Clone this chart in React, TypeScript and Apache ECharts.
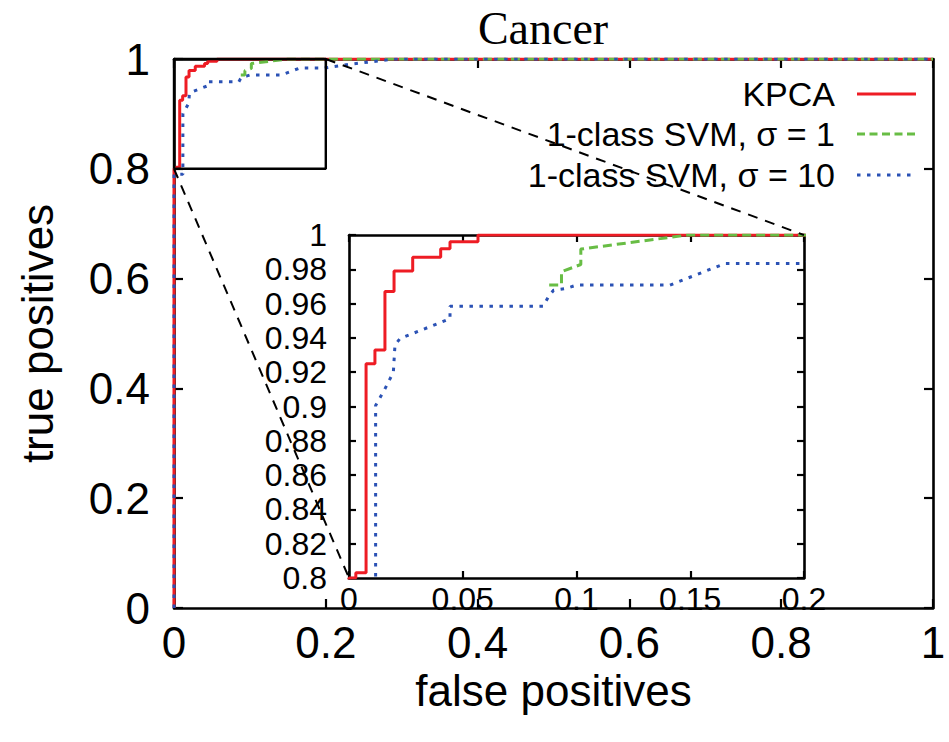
import React, { useEffect, useRef } from "react";
import * as echarts from "echarts";

// ROC curves (false positive rate, true positive rate)
const kpcaPoints: [number, number][] = [
  [0, 0], [0, 0.8], [0.003, 0.8], [0.003, 0.803], [0.0075, 0.803], [0.0075, 0.925],
  [0.0114, 0.925], [0.0114, 0.933], [0.0158, 0.933], [0.0158, 0.967], [0.0198, 0.967],
  [0.0198, 0.979], [0.028, 0.979], [0.028, 0.987], [0.0403, 0.987], [0.0403, 0.992],
  [0.0444, 0.992], [0.0444, 0.996], [0.0567, 0.996], [0.0567, 1], [1, 1],
];
const svm1Points: [number, number][] = [
  [0.088, 0.9708], [0.0934, 0.9708], [0.0934, 0.9786], [0.1019, 0.9828],
  [0.1019, 0.9918], [0.149, 1], [1, 1],
];
const svm10Points: [number, number][] = [
  [0, 0], [0, 0.79], [0.0117, 0.79], [0.0117, 0.9006], [0.0158, 0.9103], [0.0195, 0.92],
  [0.0202, 0.9357], [0.0224, 0.9396], [0.0444, 0.9512], [0.0444, 0.9585],
  [0.0854, 0.9585], [0.0876, 0.9639], [0.0899, 0.9678], [0.0953, 0.9688],
  [0.1, 0.9708], [0.1411, 0.9708], [0.1653, 0.9834], [0.198, 0.9834],
  [0.23, 0.99], [0.29, 1], [1, 1],
];
const zoomBox: [number, number][] = [[0, 0.8], [0.2, 0.8], [0.2, 1], [0, 1], [0, 0.8]];

const seriesNames = ["KPCA", "1-class SVM, σ = 1", "1-class SVM, σ = 10"];
const seriesColors = ["#ee1c24", "#68bd45", "#2b52b5"];
const seriesDash: (number[] | null)[] = [null, [9, 5], [3.5, 6.5]];
const legendDash: (number[] | null)[] = [null, [8, 4.5], [3.5, 6.5]];

const mainTicks = { min: 0, max: 1, interval: 0.2 };
const insetX = { min: 0, max: 0.2, interval: 0.05 };
const insetY = { min: 0.8, max: 1, interval: 0.02 };

const FONT = "'Liberation Sans', Arial, Helvetica, sans-serif";

const fmt = (v: number) => String(+v.toFixed(3));

function axis(gridIndex: number, pos: string, range: any, showLabel: boolean, margin: number, tickLen: number, fontSize: number, extra: any = {}) {
  return {
    type: "value",
    gridIndex,
    position: pos,
    ...range,
    splitLine: { show: false },
    axisLine: { show: true, onZero: false, lineStyle: { color: "#000", width: 2.6 } },
    axisTick: { show: true, inside: true, length: tickLen, lineStyle: { color: "#000", width: 2.2 } },
    axisLabel: {
      show: showLabel,
      margin,
      color: "#000",
      fontFamily: FONT,
      fontSize,
      formatter: fmt,
      showMinLabel: true,
      showMaxLabel: true,
    },
    ...extra,
  };
}

export default function App() {
  const ref = useRef<HTMLDivElement>(null);
  useEffect(() => {
    if (!ref.current) return;
    const chart = echarts.init(ref.current, undefined, { renderer: "svg" });
    const data = [kpcaPoints, svm1Points, svm10Points];
    const series: any[] = [];
    [0, 2].forEach((ai) => {
      data.forEach((pts, i) => {
        series.push({
          type: "line",
          name: seriesNames[i],
          xAxisIndex: ai,
          yAxisIndex: ai,
          data: pts,
          showSymbol: false,
          symbol: "none",
          clip: true,
          silent: true,
          lineStyle: { color: seriesColors[i], width: 3, type: seriesDash[i] ?? "solid", cap: "butt" },
          z: 3 + i,
        });
      });
    });
    series.push({
      type: "line",
      xAxisIndex: 0,
      yAxisIndex: 0,
      data: zoomBox,
      showSymbol: false,
      symbol: "none",
      silent: true,
      clip: false,
      lineStyle: { color: "#000", width: 2.4 },
      z: 6,
    });

    const titleStyle = { fontFamily: FONT, fontSize: 44, color: "#000" };
    const option: any = {
      animation: false,
      backgroundColor: "#fff",
      grid: [
        { left: 174, top: 59, width: 759, height: 549, containLabel: false },
        { left: 349, top: 235, width: 455, height: 343, containLabel: false },
      ],
      xAxis: [
        axis(0, "bottom", mainTicks, true, 12, 9, 44, {
          name: "false positives",
          nameLocation: "middle",
          nameGap: 56,
          nameTextStyle: titleStyle,
        }),
        axis(0, "top", mainTicks, false, 10, 9, 44),
        axis(1, "bottom", insetX, true, 5, 7, 32),
        axis(1, "top", insetX, false, 10, 7, 32),
      ],
      yAxis: [
        axis(0, "left", mainTicks, true, 24, 9, 44, {
          name: "true positives",
          nameLocation: "middle",
          nameGap: 115,
          nameRotate: 90,
          nameTextStyle: titleStyle,
        }),
        axis(0, "right", mainTicks, false, 10, 9, 44),
        axis(1, "left", insetY, true, 22, 7, 32),
        axis(1, "right", insetY, false, 10, 7, 32),
      ],
      series,
    };
    chart.setOption(option);

    const a1 = chart.convertToPixel({ xAxisIndex: 0, yAxisIndex: 0 } as any, [0, 0.8]) as number[];
    const b1 = chart.convertToPixel({ xAxisIndex: 2, yAxisIndex: 2 } as any, [0, 0.8]) as number[];
    const a2 = chart.convertToPixel({ xAxisIndex: 0, yAxisIndex: 0 } as any, [0.2, 1]) as number[];
    const b2 = chart.convertToPixel({ xAxisIndex: 2, yAxisIndex: 2 } as any, [0.2, 1]) as number[];

    const legendY = [94, 134, 175];
    const graphic: any[] = [
      {
        type: "text",
        x: 543,
        y: 28,
        style: { text: "Cancer", font: "46px 'Liberation Serif', 'Times New Roman', serif", fill: "#000", align: "center", verticalAlign: "middle" },
      },
      {
        type: "line",
        shape: { x1: a1[0], y1: a1[1], x2: b1[0], y2: b1[1] },
        style: { stroke: "#000", lineWidth: 2, lineDash: [10, 8] },
        z: 10,
      },
      {
        type: "line",
        shape: { x1: a2[0], y1: a2[1], x2: b2[0], y2: b2[1] },
        style: { stroke: "#000", lineWidth: 2, lineDash: [10, 8] },
        z: 10,
      },
    ];
    seriesNames.forEach((n, i) => {
      graphic.push({
        type: "text",
        x: 835,
        y: legendY[i],
        style: { text: n, font: `34px ${FONT}`, fill: "#000", align: "right", verticalAlign: "middle" },
        z: 20,
      });
      graphic.push({
        type: "line",
        shape: { x1: 857, y1: legendY[i], x2: 916, y2: legendY[i] },
        style: { stroke: seriesColors[i], lineWidth: 3, lineDash: legendDash[i] },
        z: 20,
      });
    });
    chart.setOption({ graphic });

    return () => chart.dispose();
  }, []);
  return <div ref={ref} style={{ position: "absolute", left: 0, top: 0, width: 949, height: 742 }} />;
}
